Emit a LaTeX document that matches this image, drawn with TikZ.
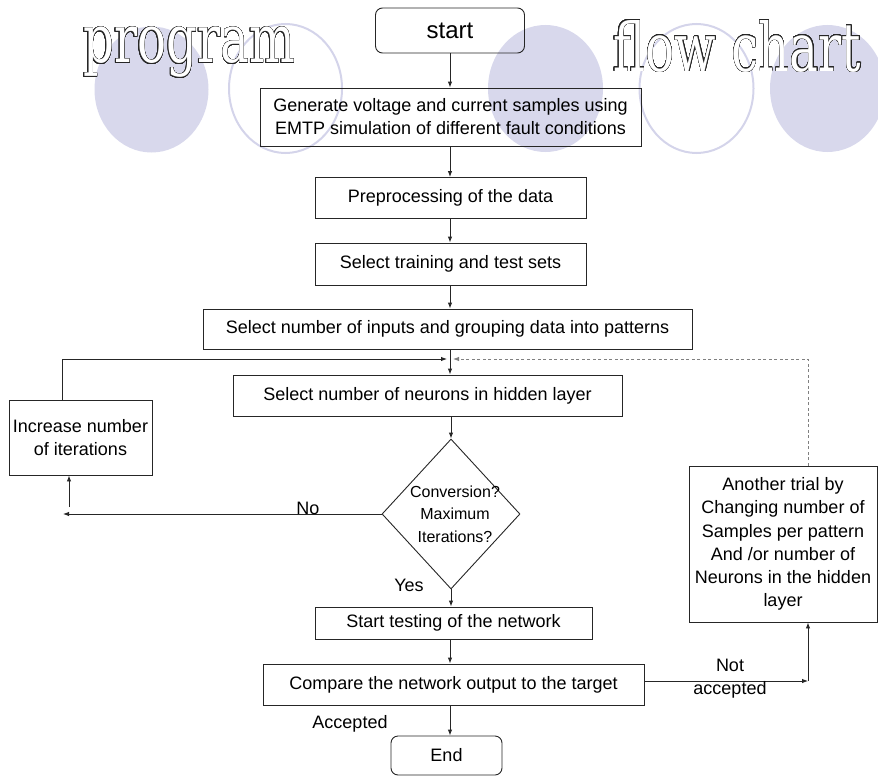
\documentclass[tikz,border=0pt]{standalone}
\usepackage{fontspec}
\setmainfont{Liberation Sans}
\newfontfamily\titlefont{DejaVu Serif}
\usepackage{contour}
\usetikzlibrary{arrows.meta,shapes.geometric}
\definecolor{lav}{HTML}{D8D8EC}
\definecolor{lavline}{HTML}{D4D4EA}
\definecolor{ink}{HTML}{262626}
\contourlength{0.6pt}
\contournumber{32}

\begin{document}
\begin{tikzpicture}[x=1pt,y=-1pt,
  box/.style={draw=ink,line width=0.9pt,inner sep=0pt,align=center,font=\fontsize{18}{23}\selectfont},
  term/.style={box,rounded corners=7pt},
  arr/.style={draw=ink,line width=0.9pt,-{Latex[length=6pt,width=4.5pt]}},
  lbl/.style={inner sep=0pt,font=\fontsize{18}{23}\selectfont},
  title/.style={inner sep=0pt,anchor=base west}]

\useasboundingbox (0,0) rectangle (878,776);

% decorative ellipses behind the heading
\fill[lav] (151.5,89.5) ellipse [x radius=57pt, y radius=63pt];
\draw[lavline,line width=2pt] (285.5,88.5) ellipse [x radius=56.5pt, y radius=64.5pt];
\fill[lav] (545.5,88.5) ellipse [x radius=57.5pt, y radius=63.5pt];
\draw[lavline,line width=2pt] (696.5,88.5) ellipse [x radius=57pt, y radius=64.5pt];
\fill[lav] (827.5,88.5) ellipse [x radius=57.5pt, y radius=63.5pt];

% outlined heading words
\node[title] (ttlA) at (83,63) {\resizebox*{212pt}{51pt}{\fontsize{70}{80}\titlefont\selectfont\color{white}\contour{black!85}{program}}};
\node[title] (ttlB) at (613,71) {\resizebox{248pt}{51pt}{\fontsize{70}{80}\titlefont\selectfont\color{white}\contour{black!85}{flow chart}}};

% flow column
\node[term,minimum width=149pt,minimum height=45pt,font=\fontsize{24}{28}\selectfont] (start) at (450,30.5) {start};
\node[box,minimum width=381pt,minimum height=58pt] (gen) at (450.5,117) {Generate voltage and current samples using\\EMTP simulation of different fault conditions};
\node[box,minimum width=271pt,minimum height=41pt] (pre) at (450.5,198) {Preprocessing of the data};
\node[box,minimum width=271pt,minimum height=42pt] (train) at (450.5,264) {Select training and test sets};
\node[box,minimum width=489pt,minimum height=40pt] (inp) at (447.5,329) {Select number of inputs and grouping data into patterns};
\node[box,minimum width=389pt,minimum height=41pt] (neur) at (427.5,395.5) {Select number of neurons in hidden layer};
\node[draw=ink,line width=0.9pt,diamond,minimum width=138pt,minimum height=150pt,inner sep=0pt] (dia) at (451,514) {};
\node[lbl,align=center,font=\fontsize{16}{22.5}\selectfont] (diaT) at (455,514) {Conversion?\\Maximum\\Iterations?};
\node[box,minimum width=143pt,minimum height=75pt] (inc) at (80.5,437.5) {Increase number\\of iterations};
\node[box,minimum width=277pt,minimum height=32pt] (test) at (453.5,623) {Start testing of the network};
\node[box,minimum width=381pt,minimum height=41pt] (cmp) at (453.5,684.5) {Compare the network output to the target};
\node[term,minimum width=111pt,minimum height=39pt] (end) at (446.5,755.5) {End};
\node[box,minimum width=188pt,minimum height=156pt,font=\fontsize{18}{23.3}\selectfont] (trial) at (783,544) {Another trial by\\Changing number of\\Samples per pattern\\And /or number of\\Neurons in the hidden\\layer};

% routing points
\coordinate (col) at (450,0);
\coordinate (j) at (450,359);
\coordinate (lx) at (62,0);
\coordinate (rx) at (808,0);
\coordinate (noend) at (63,516);
\coordinate (upfoot) at (69,507);
\coordinate (na) at (808,681);

% connectors
\draw[arr] (start.south -| col) -- (gen.north -| col);
\draw[arr] (gen.south -| col) -- (pre.north -| col);
\draw[arr] (pre.south -| col) -- (train.north -| col);
\draw[arr] (train.south -| col) -- (inp.north -| col);
\draw[arr] (inp.south -| col) -- (neur.north -| col);
\draw[arr] (neur.south -| dia.north) -- (dia.north);
\draw[arr] (dia.south) -- (test.north -| dia.south);
\draw[arr] (test.south -| col) -- (cmp.north -| col);
\draw[arr] (cmp.south -| col) -- (end.north -| col);
\draw[arr] (inc.north -| lx) |- ([xshift=-3pt]j);
\draw[arr,draw=gray,dash pattern=on 3pt off 2.5pt] (trial.north -| rx) |- ([xshift=3pt]j);
\draw[arr] (dia.west) -- (dia.west -| noend);
\draw[arr] (upfoot) -- (upfoot |- inc.south);
\draw[arr] (cmp.east |- na) -- (na);
\draw[arr] (na) -- (na |- trial.south);

% branch labels
\node[lbl] (no) at (308,508) {No};
\node[lbl] (yes) at (409,585) {Yes};
\node[lbl,align=center] (notacc) at (730,679) {Not\\accepted};
\node[lbl] (acc) at (350,724) {Accepted};
\end{tikzpicture}
\end{document}
